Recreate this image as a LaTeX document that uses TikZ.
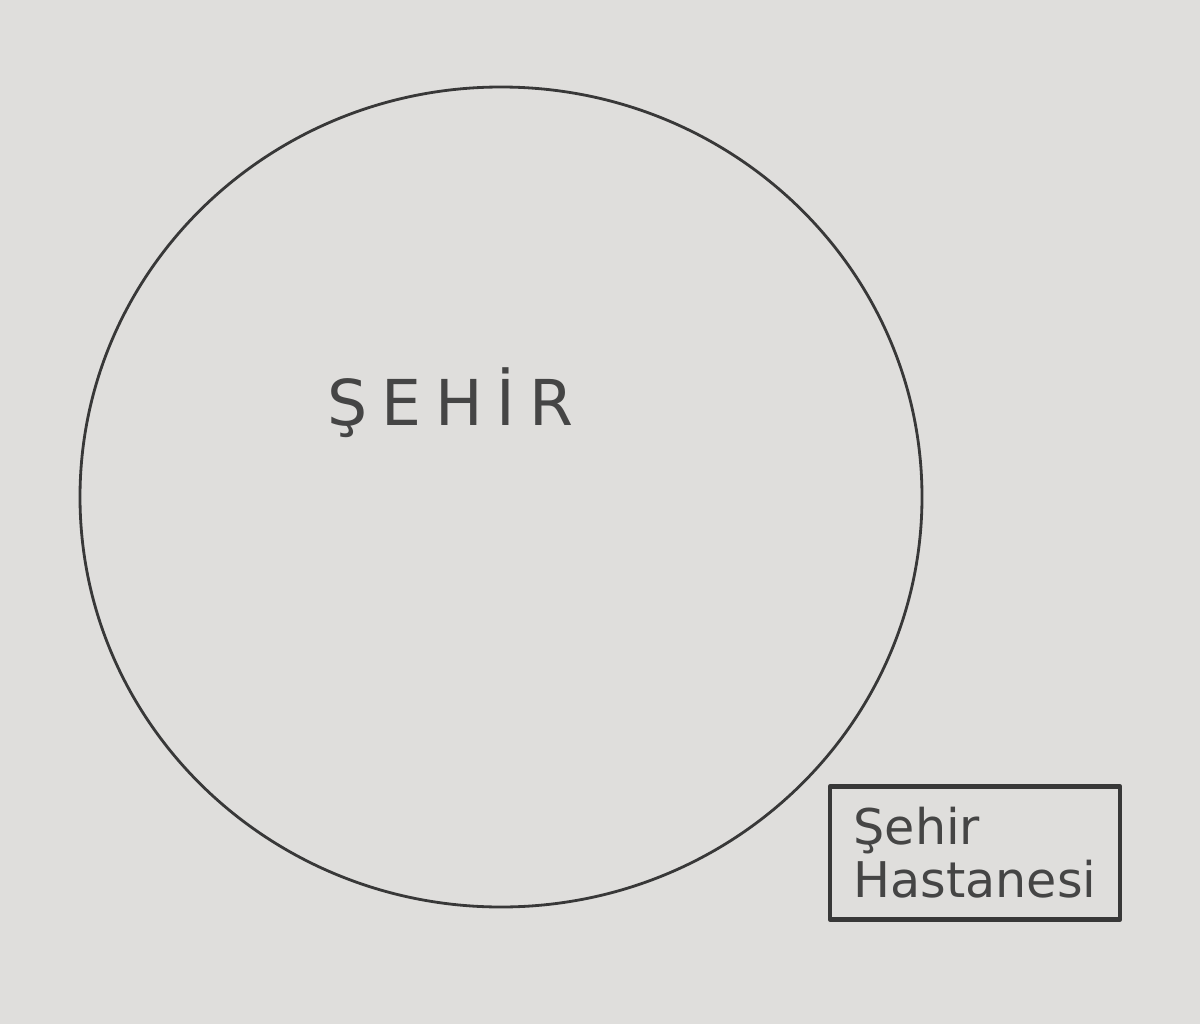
\documentclass[tikz,border=0pt]{standalone}
\usepackage{fontspec}
\usepackage{tikz}
\usetikzlibrary{calc}
\newfontfamily\sketchfont{DejaVu Sans}
\newfontfamily\sketchwide[LetterSpace=22]{DejaVu Sans}
\definecolor{dfdedc}{rgb}{0.875,0.871,0.863}
\definecolor{uuuuuu}{rgb}{0.22,0.22,0.22}
\definecolor{qqqqtt}{rgb}{0.27,0.27,0.27}
\tikzset{every node/.style={color=qqqqtt}}
\begin{document}
\begin{tikzpicture}[line cap=round,line join=round,x=0.02cm,y=-0.02cm]
                        \fill[color=dfdedc] (0,0) rectangle (1200,1024);
                        \useasboundingbox (0,0) rectangle (1200,1024);
                        \draw [line width=1.6pt,color=uuuuuu] (501,497) ellipse (421 and 410);
                        \node (sehir) at (450,403) [font=\sketchwide\fontsize{36}{38}\selectfont] {ŞEHİR};
                        \node (hastane) at (975,853) [draw,line width=2.6pt,color=uuuuuu,minimum width=5.8cm,minimum height=2.66cm,align=left,text=qqqqtt,font=\sketchfont\fontsize{28}{30}\selectfont] {Şehir\\Hastanesi};
                    \end{tikzpicture}
\end{document}
